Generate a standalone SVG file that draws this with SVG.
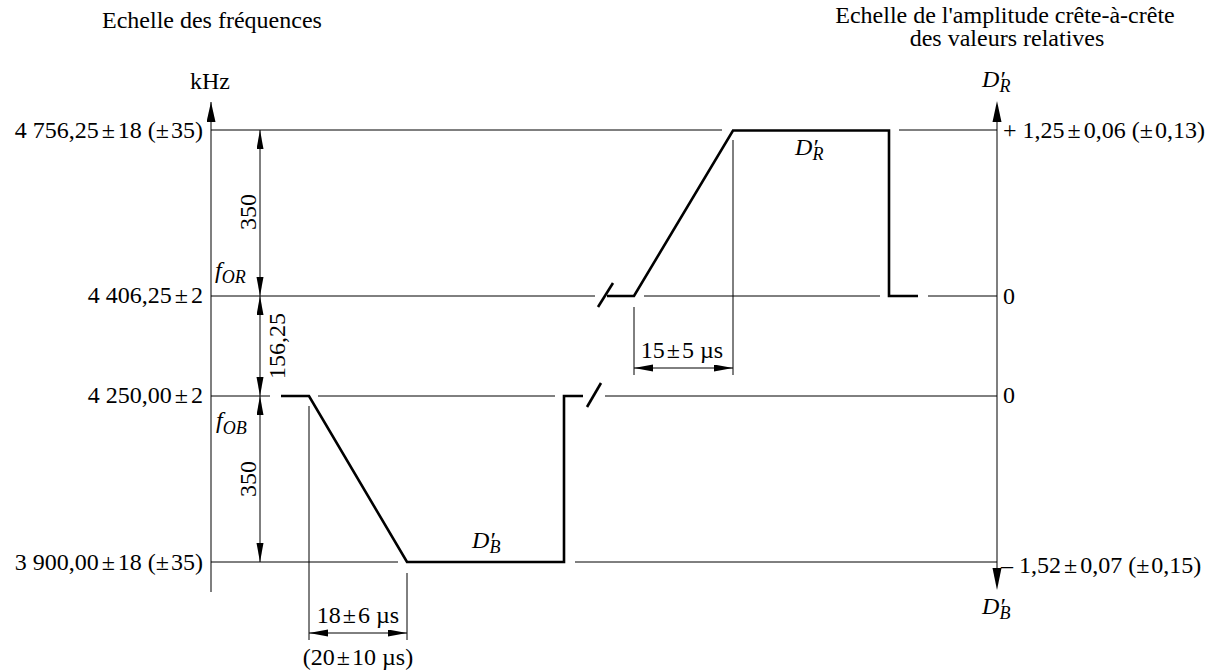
<svg xmlns="http://www.w3.org/2000/svg" width="1219" height="670" viewBox="0 0 1219 670">
<style>
text{font-family:"Liberation Serif","Times New Roman",serif;font-size:24px;fill:#000}
.it{font-style:italic}
.sub{font-size:18px;font-style:italic}
.thin{stroke:#000;stroke-width:1;fill:none}
.axis{stroke:#555;stroke-width:1.5;fill:none}
.thick{stroke:#000;stroke-width:2.6;fill:none;stroke-linejoin:miter}
.dim{stroke:#000;stroke-width:1;fill:none;marker-start:url(#da);marker-end:url(#da)}
</style>
<defs>
<marker id="da" markerUnits="userSpaceOnUse" markerWidth="20" markerHeight="8" refX="19" refY="3.5" orient="auto-start-reverse"><path d="M0,0 L19,3.5 L0,7 z" fill="#000"/></marker>
<marker id="ax" markerUnits="userSpaceOnUse" markerWidth="20" markerHeight="10" refX="20" refY="4.5" orient="auto"><path d="M0,0 L20,4.5 L0,9 z" fill="#000"/></marker>
</defs>

<g id="titles">
<text x="102" y="28">Echelle des fréquences</text>
<text x="1005" y="23" text-anchor="middle">Echelle de l'amplitude crête-à-crête</text>
<text x="1007" y="46" text-anchor="middle">des valeurs relatives</text>
</g>

<g id="freq-axis">
<line class="axis" x1="211" y1="592" x2="211" y2="102" marker-end="url(#ax)"/>
<text x="210" y="89" text-anchor="middle">kHz</text>
<text x="203" y="138" text-anchor="end">4 756,25<tspan dx="3">±</tspan><tspan dx="3">18 (</tspan><tspan>±</tspan><tspan dx="2">35)</tspan></text>
<text x="203" y="303" text-anchor="end">4 406,25<tspan dx="3">±</tspan><tspan dx="3">2</tspan></text>
<text x="203" y="403" text-anchor="end">4 250,00<tspan dx="3">±</tspan><tspan dx="3">2</tspan></text>
<text x="203" y="570" text-anchor="end">3 900,00<tspan dx="3">±</tspan><tspan dx="3">18 (</tspan><tspan>±</tspan><tspan dx="2">35)</tspan></text>
<text x="215" y="278" class="it">f<tspan class="sub" dy="5">OR</tspan></text>
<text x="216" y="428" class="it">f<tspan class="sub" dy="6">OB</tspan></text>
</g>

<g id="amp-axis">
<line class="axis" x1="997" y1="122" x2="997" y2="568"/>
<path d="M992.5,122 L997,101 L1001.5,122 z" fill="#000"/>
<path d="M992.5,568 L997,590 L1001.5,568 z" fill="#000"/>
<text x="982" y="87" class="it">D′<tspan class="sub" dx="-5" dy="5">R</tspan></text>
<text x="982" y="614" class="it">D′<tspan class="sub" dx="-5" dy="5">B</tspan></text>
<text x="1003" y="138">+ 1,25<tspan dx="3">±</tspan><tspan dx="3">0,06 (</tspan><tspan>±</tspan><tspan dx="2">0,13)</tspan></text>
<text x="1003" y="304">0</text>
<text x="1003" y="403">0</text>
<text x="1001" y="573">– 1,52<tspan dx="3">±</tspan><tspan dx="3">0,07 (</tspan><tspan>±</tspan><tspan dx="2">0,15)</tspan></text>
</g>

<g id="levels">
<path class="thin" d="M211,130 H722 M899,130 H997"/>
<path class="thin" d="M211,296 H595 M644,296 H880 M928,296 H997"/>
<path class="thin" d="M211,396 H270 M318,396 H555 M605,396 H997"/>
<path class="thin" d="M211,562 H398 M575,562 H997"/>
</g>

<g id="pulse-R">
<path class="thick" d="M607,296 L634,296 L733,130.5 L889,130.5 L889,296 L918,296"/>
<path class="thick" d="M598,307 L613,283"/>
<text x="795" y="155" class="it">D′<tspan class="sub" dx="-5" dy="5">R</tspan></text>
</g>

<g id="pulse-B">
<path class="thick" d="M281,396 L309,396 L407,562 L564,562 L564,396 L583,396"/>
<path class="thick" d="M587,407 L601,383"/>
<text x="472" y="548" class="it">D′<tspan class="sub" dx="-5" dy="5">B</tspan></text>
</g>

<g id="connectors">
<line class="dim" x1="260" y1="130" x2="260" y2="296"/>
<line class="dim" x1="260" y1="296" x2="260" y2="396"/>
<line class="dim" x1="260" y1="396" x2="260" y2="562"/>
<path class="thin" d="M733,140 V375 M634,307 V375"/>
<line class="dim" x1="634" y1="368" x2="733" y2="368"/>
<path class="thin" d="M309,406 V640 M407,573 V640"/>
<line class="dim" x1="309" y1="633" x2="407" y2="633"/>
</g>

<g id="dim-labels">
<text transform="translate(256,212) rotate(-90)" text-anchor="middle">350</text>
<text transform="translate(285,346) rotate(-90)" text-anchor="middle">156,25</text>
<text transform="translate(256,479) rotate(-90)" text-anchor="middle">350</text>
<text x="682" y="358" text-anchor="middle">15<tspan dx="2">±</tspan><tspan dx="2">5 µs</tspan></text>
<text x="358" y="623" text-anchor="middle">18<tspan dx="2">±</tspan><tspan dx="2">6 µs</tspan></text>
<text x="358" y="665" text-anchor="middle">(20<tspan dx="2">±</tspan><tspan dx="2">10 µs)</tspan></text>
</g>
</svg>
